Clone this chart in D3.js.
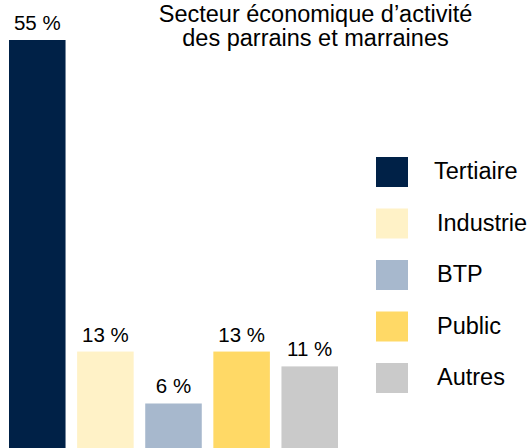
<!DOCTYPE html>
<html>
<head>
<meta charset="utf-8">
<script src="https://cdn.jsdelivr.net/npm/d3@7"></script>
<style>
  body { margin: 0; background: #fff; }
  svg { display: block; }
  text { font-family: "Liberation Sans", Arial, sans-serif; fill: #000; }
</style>
</head>
<body>
<div id="chart"></div>
<script>
const categories = ["Tertiaire", "Industrie", "BTP", "Public", "Autres"];
const values = [55, 13, 6, 13, 11];
const colors = ["#002147", "#FFF2C7", "#A7B8CD", "#FFD966", "#CACACA"];
const titleLines = ["Secteur économique d’activité", "des parrains et marraines"];

const data = categories.map((c, i) => ({ cat: c, value: values[i], color: colors[i] }));

const svg = d3.select("#chart")
  .append("svg")
    .attr("width", 531)
    .attr("height", 448);

const xScale = d3.scaleBand()
  .domain(categories)
  .range([9, 338])
  .paddingInner(0.17)
  .paddingOuter(0);

const yScale = d3.scaleLinear()
  .domain([0, 55])
  .range([448, 40]);

// bars
const bar = svg.selectAll("g.bar")
  .data(data)
  .join("g")
    .attr("class", "bar");

bar.append("rect")
  .attr("x", d => xScale(d.cat))
  .attr("y", d => yScale(d.value))
  .attr("width", xScale.bandwidth())
  .attr("height", d => yScale(0) - yScale(d.value))
  .attr("fill", d => d.color);

bar.append("text")
  .text(d => `${d.value} %`)
  .attr("x", d => xScale(d.cat) + xScale.bandwidth() / 2)
  .attr("y", d => yScale(d.value) - 10)
  .attr("text-anchor", "middle")
  .style("font-size", "20.5px");

// title
svg.append("text")
  .attr("text-anchor", "middle")
  .style("font-size", "23.5px")
  .selectAll("tspan")
  .data(titleLines)
  .join("tspan")
    .attr("x", 315.5)
    .attr("y", (d, i) => 22 + i * 24)
    .text(d => d);

// legend
const legendY = d3.scalePoint()
  .domain(categories)
  .range([172, 378]);

const legend = svg.selectAll("g.legend")
  .data(data)
  .join("g")
    .attr("class", "legend")
    .attr("transform", d => `translate(376, ${legendY(d.cat)})`);

legend.append("rect")
  .attr("x", 0)
  .attr("y", -15)
  .attr("width", 32)
  .attr("height", 30)
  .attr("fill", d => d.color);

legend.append("text")
  .text(d => d.cat)
  .attr("x", (d, i) => i === 0 ? 58 : 61)
  .attr("y", 7)
  .style("font-size", "23.5px");
</script>
</body>
</html>
